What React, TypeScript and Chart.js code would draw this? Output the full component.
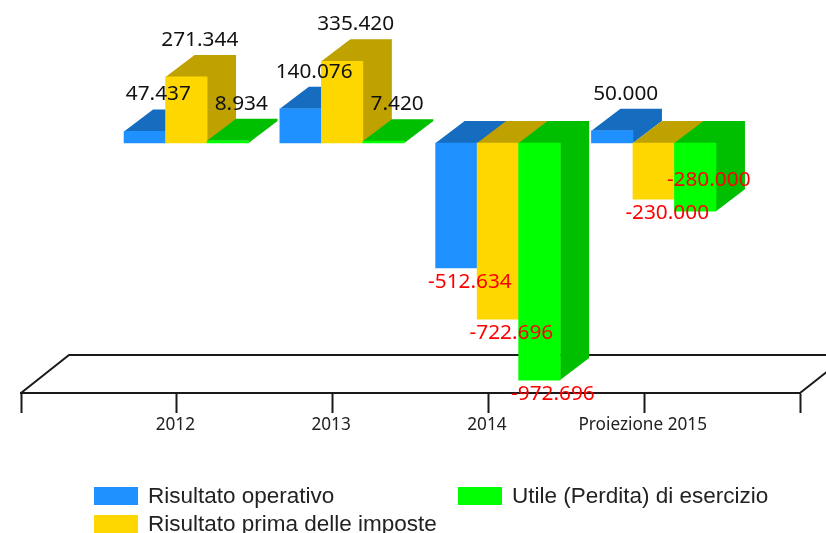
import React, { useEffect, useRef } from "react";
import { Chart, registerables } from "chart.js";

Chart.register(...registerables);

const categories = ["", "2012", "2013", "2014", "Proiezione 2015", ""];
const seriesNames = ["Risultato operativo", "Risultato prima delle imposte", "Utile (Perdita) di esercizio"];
const operativo = [null, 47437, 140076, -512634, 50000, null];
const primaImposte = [null, 271344, 335420, -722696, -230000, null];
const utile = [null, 8934, 7420, -972696, -280000, null];

const FRONT = ["#1E90FF", "#FFD700", "#00FF00"];
const DEPTH = ["#166CBF", "#BFA100", "#00BF00"];
const DX = 29;
const DY = 22;
const SHIFT = 9.5;
const VALUE_FONT = "20.8px 'Noto Sans'";
const LEGEND_FONT = "22.5px 'Liberation Sans'";

const fmt = (v: number) => {
  const s = Math.abs(v).toString().replace(/\B(?=(\d{3})+(?!\d))/g, ".");
  return (v < 0 ? "-" : "") + s;
};

const plugin3d = {
  id: "bars3d",
  beforeDatasetDraw() {
    return false;
  },
  beforeDatasetsDraw(chart: any) {
    const { ctx, chartArea: a } = chart;
    ctx.save();
    ctx.strokeStyle = "#1a1a1a";
    ctx.lineWidth = 2;
    ctx.beginPath();
    ctx.moveTo(a.left, a.bottom);
    ctx.lineTo(a.left + 48, a.bottom - 38);
    ctx.lineTo(a.right + 48, a.bottom - 38);
    ctx.lineTo(a.right, a.bottom);
    ctx.stroke();
    ctx.restore();
  },
  afterDatasetsDraw(chart: any) {
    const { ctx } = chart;
    ctx.save();
    ctx.translate(SHIFT, 0);
    chart.data.datasets.forEach((_: any, di: number) => {
      const meta = chart.getDatasetMeta(di);
      meta.data.forEach((el: any, i: number) => {
        if (chart.data.datasets[di].data[i] == null) return;
        const l = el.x - el.width / 2;
        const r = el.x + el.width / 2;
        const t = Math.min(el.y, el.base);
        const b = Math.max(el.y, el.base);
        ctx.fillStyle = DEPTH[di];
        ctx.beginPath();
        ctx.moveTo(l, t);
        ctx.lineTo(l + DX, t - DY);
        ctx.lineTo(r + DX, t - DY);
        ctx.lineTo(r + DX, b - DY);
        ctx.lineTo(r, b);
        ctx.lineTo(r, t);
        ctx.closePath();
        ctx.fill();
        el.draw(ctx);
      });
    });
    ctx.font = VALUE_FONT;
    ctx.textAlign = "center";
    ctx.textBaseline = "middle";
    chart.data.datasets.forEach((ds: any, di: number) => {
      const meta = chart.getDatasetMeta(di);
      meta.data.forEach((el: any, i: number) => {
        const v = ds.data[i];
        if (v == null) return;
        const tx = el.x + 13.5;
        let ty: number;
        if (v >= 0) ty = el.y - DY - 15;
        else ty = el.y + 14;
        if (v === -280000) ty = el.y - 31;
        ctx.fillStyle = v < 0 ? "#FF0000" : "#111";
        ctx.fillText(fmt(v), tx, ty);
      });
    });
    ctx.restore();

    ctx.save();
    ctx.font = LEGEND_FONT;
    ctx.textBaseline = "middle";
    ctx.textAlign = "left";
    const slots = [
      [94, 487],
      [94, 515],
      [458, 487],
    ];
    seriesNames.forEach((name, i) => {
      const [x, y] = slots[i];
      ctx.fillStyle = FRONT[i];
      ctx.fillRect(x, y, 44, 18);
      ctx.fillStyle = "#222";
      ctx.fillText(name, x + 54, y + 10);
    });
    ctx.restore();
  },
};

export default function App() {
  const ref = useRef<HTMLCanvasElement>(null);
  useEffect(() => {
    const chart = new Chart(ref.current as HTMLCanvasElement, {
      type: "bar",
      data: {
        labels: categories,
        datasets: [
          { label: seriesNames[0], data: operativo, backgroundColor: FRONT[0], borderWidth: 0 },
          { label: seriesNames[1], data: primaImposte, backgroundColor: FRONT[1], borderWidth: 0 },
          { label: seriesNames[2], data: utile, backgroundColor: FRONT[2], borderWidth: 0 },
        ],
      } as any,
      options: {
        responsive: false,
        animation: false,
        barThickness: 41.5,
        layout: { padding: { left: 21, right: 26, top: 0, bottom: 0 } },
        plugins: { legend: { display: false }, tooltip: { enabled: false } },
        scales: {
          x: {
            offset: false,
            afterFit: (s: any) => {
              s.height = 140;
            },
            border: { display: true, color: "#1a1a1a", width: 2 },
            grid: { offset: false, drawOnChartArea: false, drawTicks: true, tickLength: 20, tickColor: "#1a1a1a", tickWidth: 2 },
            ticks: {
              autoSkip: false,
              maxRotation: 0,
              padding: 2,
              labelOffset: -1.5,
              color: "#222",
              font: { family: "'Noto Sans'", size: 17.2 },
            },
          },
          y: { display: false, min: -1025800, max: 586800 },
        },
      } as any,
      plugins: [plugin3d as any],
    });
    return () => chart.destroy();
  }, []);
  return (
    <canvas
      ref={ref}
      width={826}
      height={533}
      style={{ position: "absolute", left: 0, top: 0, width: 826, height: 533, display: "block" }}
    />
  );
}
